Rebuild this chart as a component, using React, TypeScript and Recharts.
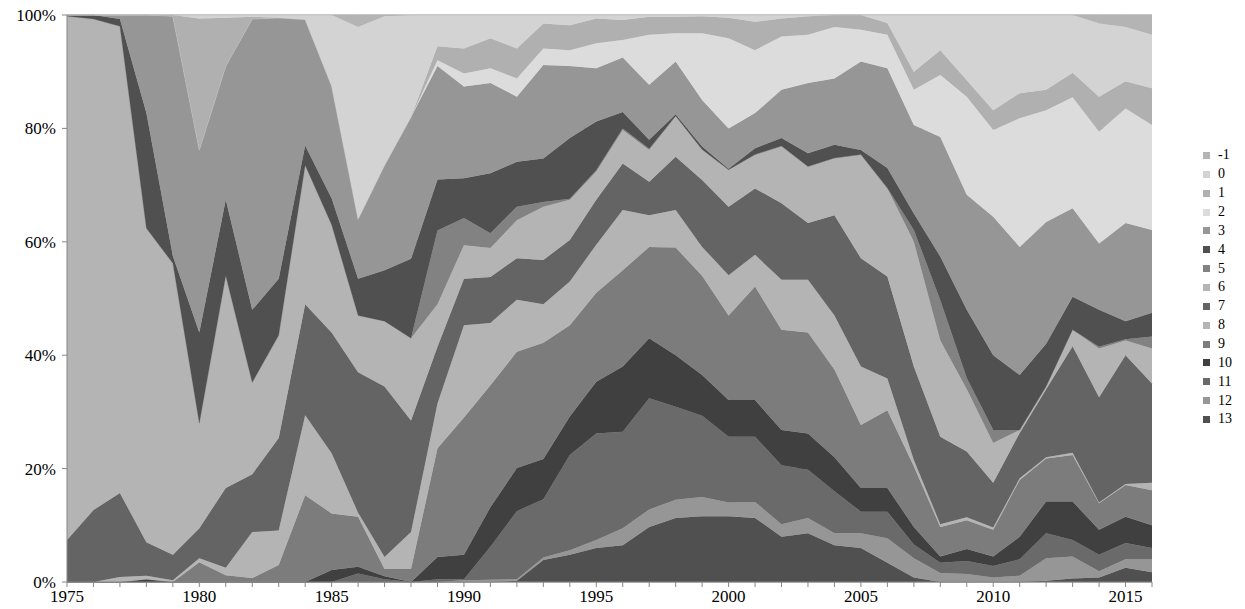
import React from 'react';
import { AreaChart, Area, XAxis, YAxis, CartesianGrid } from 'recharts';

const years = [1975, 1976, 1977, 1978, 1979, 1980, 1981, 1982, 1983, 1984, 1985, 1986, 1987, 1988, 1989, 1990, 1991, 1992, 1993, 1994, 1995, 1996, 1997, 1998, 1999, 2000, 2001, 2002, 2003, 2004, 2005, 2006, 2007, 2008, 2009, 2010, 2011, 2012, 2013, 2014, 2015, 2016];

const s13 = [0, 0, 0, 0, 0, 0, 0, 0, 0, 0, 0, 0, 0, 0, 0, 0, 0, 0.2, 3.9, 4.8, 6, 6.5, 9.7, 11.3, 11.6, 11.6, 11.3, 8, 8.6, 6.5, 6, 3.4, 0.8, 0, 0, 0, 0, 0.2, 0.6, 0.8, 2.5, 1.7];
const s12 = [0, 0, 0, 0, 0, 0, 0, 0, 0, 0, 0, 0, 0, 0, 0, 0.3, 0.4, 0.3, 0.4, 0.8, 1.4, 3, 3.1, 3.2, 3.4, 2.4, 2.8, 2.2, 2.7, 2.1, 2.6, 4.3, 3.4, 1.6, 1.4, 0.8, 1.1, 4, 3.9, 1.1, 1.5, 2.3];
const s11 = [0, 0, 0, 0, 0, 0, 0, 0, 0, 0, 0, 1.5, 0.5, 0, 0.5, 0.2, 5.8, 12, 10.3, 16.8, 18.8, 17, 19.6, 16.4, 14.3, 11.6, 11.5, 10.4, 8.5, 7.4, 3.8, 4.7, 2.4, 1.8, 2.3, 2, 2.9, 4.4, 2.9, 2.9, 2.9, 2];
const s10 = [0, 0, 0, 0.5, 0, 0, 0, 0, 0, 0, 2.1, 1.2, 0.5, 0, 3.9, 4.3, 7, 7.6, 7.1, 6.8, 9.1, 11.5, 10.6, 9.1, 7.2, 6.5, 6.5, 6.2, 6.4, 6, 4.2, 4.2, 3.1, 1.1, 2.1, 1.7, 4, 5.6, 6.8, 4.4, 4.6, 4];
const s9 = [0, 0, 0, 0, 0, 3.5, 1.2, 0.7, 3, 15.3, 10, 8.8, 1.3, 2.3, 19.2, 24.2, 21.5, 20.5, 20.5, 16.1, 15.7, 17, 16.1, 19, 17.5, 14.9, 20, 17.7, 17.8, 15.5, 11.1, 13.7, 10.7, 5.2, 5.1, 4.7, 10, 7.6, 8.2, 4.7, 5.6, 6.2];
const s8 = [0, 0, 0.9, 0.6, 0.3, 0.7, 1.3, 8.1, 6.1, 14.1, 10.6, 0.7, 2.1, 6.5, 7.9, 16.3, 11, 9.2, 6.8, 7.7, 8.5, 10.6, 5.6, 6.6, 5.1, 7.1, 5.6, 8.8, 9.3, 9.5, 10.3, 5.6, 1.1, 0.5, 0.5, 0.4, 0.3, 0.2, 0.4, 0.1, 0.2, 1.3];
const s7 = [7.4, 12.7, 14.8, 5.9, 4.5, 5.3, 14.1, 10.2, 16.3, 19.6, 21.3, 24.8, 30.1, 19.7, 10, 8.2, 8.1, 7.3, 7.8, 7.3, 7.9, 8.2, 5.9, 9.4, 11.8, 12.1, 11.7, 13.5, 10, 17.7, 19.1, 18, 16.5, 15.4, 11.6, 7.9, 8, 12, 18.8, 18.6, 22.7, 17.5];
const s6 = [92.4, 86.6, 82.3, 55.4, 51.4, 18.5, 37.4, 16.2, 18.1, 24.5, 19, 10, 11.5, 14.5, 7.5, 5.9, 5.1, 6.7, 9.4, 7.1, 5, 5.9, 5.6, 7.1, 5.3, 6.5, 5.9, 10, 9.9, 10, 18.2, 15.5, 22, 17, 11, 7, 0.5, 0.5, 2.9, 8.6, 2.6, 6.2];
const s5 = [0, 0, 0, 0, 0, 0, 0, 0, 0, 0, 0, 0, 0, 0, 13, 4.8, 2.6, 2.4, 0.8, 0.2, 0.2, 0.3, 0.2, 0.1, 0.1, 0, 0.1, 0.1, 0.1, 0.1, 0.1, 0.1, 2.1, 7.1, 2, 2.3, 0, 0, 0, 0.3, 0.2, 2.1];
const s4 = [0.2, 0.7, 1.3, 20.3, 1.3, 16, 13.4, 12.8, 10, 3.5, 4.7, 6.5, 9, 14, 9, 7, 10.6, 7.9, 7.7, 10.7, 8.6, 2.9, 1.6, 0.3, 0.5, 0.2, 1.1, 1.4, 2.3, 2.3, 0.8, 3.5, 2.9, 7.7, 12, 13.2, 9.7, 7.5, 5.8, 6.5, 3.2, 4.2];
const s3 = [0, 0, 0.7, 17.3, 42.3, 32.2, 23.6, 51.3, 46, 22.2, 19.8, 10.5, 18.5, 25, 20, 16.2, 15.9, 11.5, 16.5, 12.7, 9.4, 9.6, 9.7, 9.3, 8.2, 7.1, 6.2, 8.5, 12.4, 11.7, 15.6, 17.6, 15.6, 21.1, 20.3, 24.4, 22.6, 21.5, 15.6, 11.7, 17.3, 14.6];
const s2 = [0, 0, 0, 0, 0, 0, 0, 0, 0, 0, 0, 0, 0, 0, 1, 2.3, 2.6, 3.2, 2.9, 2.8, 4.4, 3.1, 8.8, 5, 11.8, 15.9, 11.1, 9.4, 8.5, 9.1, 5.6, 5.9, 6.2, 10.9, 17.3, 15.3, 22.7, 19.7, 19.6, 19.7, 20.2, 18.5];
const s1 = [0, 0, 0, 0, 0.2, 23.2, 8.5, 0.4, 0, 0, 0, 0, 0, 0, 2.5, 4.4, 5.3, 5.3, 4.4, 4.4, 4.4, 3.5, 3.2, 2.9, 3, 3.6, 5, 3.2, 3.3, 2.1, 2.6, 2.1, 3.2, 4.4, 2.9, 3.5, 4.4, 3.6, 4.3, 6.2, 4.8, 6.5];
const s0 = [0, 0, 0, 0, 0, 0.6, 0.5, 0.3, 0.5, 0.8, 12.5, 33.9, 26.3, 18, 5.5, 5.9, 4.1, 5.9, 1.5, 1.8, 0.6, 0.9, 0.3, 0.3, 0.2, 0.5, 1.2, 0.6, 0.2, 0, 0, 1.4, 10, 6.2, 11.5, 16.8, 13.8, 13.2, 10.2, 12.9, 9.6, 9.4];
const sm1 = [0, 0, 0, 0, 0, 0, 0, 0, 0, 0, 0, 2.1, 0.2, 0, 0, 0, 0, 0, 0, 0, 0, 0, 0, 0, 0, 0, 0, 0, 0, 0, 0, 0, 0, 0, 0, 0, 0, 0, 0, 1.5, 2.1, 3.5];

const yTicks = [0, 0.2, 0.4, 0.6, 0.8, 1];

// bottom of stack first
const seriesDefs = [
  { key: 's13', name: '13', color: '#505050', values: s13 },
  { key: 's12', name: '12', color: '#969696', values: s12 },
  { key: 's11', name: '11', color: '#6a6a6a', values: s11 },
  { key: 's10', name: '10', color: '#404040', values: s10 },
  { key: 's9', name: '9', color: '#7c7c7c', values: s9 },
  { key: 's8', name: '8', color: '#b4b4b4', values: s8 },
  { key: 's7', name: '7', color: '#646464', values: s7 },
  { key: 's6', name: '6', color: '#b4b4b4', values: s6 },
  { key: 's5', name: '5', color: '#828282', values: s5 },
  { key: 's4', name: '4', color: '#505050', values: s4 },
  { key: 's3', name: '3', color: '#969696', values: s3 },
  { key: 's2', name: '2', color: '#dcdcdc', values: s2 },
  { key: 's1', name: '1', color: '#b0b0b0', values: s1 },
  { key: 's0', name: '0', color: '#d3d3d3', values: s0 },
  { key: 'sm1', name: '-1', color: '#b4b4b4', values: sm1 },
];

const data = years.map((year, i) => {
  const row: Record<string, number> = { year };
  seriesDefs.forEach((s) => {
    row[s.key] = s.values[i];
  });
  return row;
});

const font = '"Liberation Serif", "Times New Roman", serif';

export default function App() {
  const legendItems = [...seriesDefs].reverse();
  return (
    <div style={{ position: 'absolute', left: 0, top: 0, width: 1245, height: 609, background: '#fff' }}>
      <AreaChart
        width={1245}
        height={609}
        data={data}
        stackOffset="expand"
        margin={{ top: 15, right: 93, bottom: 5, left: 7 }}
      >
        <CartesianGrid horizontal={true} vertical={false} stroke="#9a9a9a" strokeWidth={1} />
        <XAxis
          dataKey="year"
          type="number"
          domain={[1975, 2016]}
          ticks={years}
          interval={0}
          height={22}
          tickSize={5}
          tickMargin={3}
          stroke="#868686"
          tickFormatter={(v: number) => (v % 5 === 0 ? String(v) : '')}
          tick={{ fill: '#000', fontFamily: font, fontSize: 17 }}
        />
        <YAxis
          type="number"
          domain={[0, 1]}
          ticks={yTicks}
          width={60}
          tickSize={5}
          tickMargin={6}
          stroke="#868686"
          tickFormatter={(v: number) => `${Math.round(v * 100)}%`}
          tick={{ fill: '#000', fontFamily: font, fontSize: 17 }}
        />
        {seriesDefs.map((s) => (
          <Area
            key={s.key}
            type="linear"
            dataKey={s.key}
            name={s.name}
            stackId="1"
            fill={s.color}
            fillOpacity={1}
            stroke={s.color}
            strokeWidth={0.5}
            isAnimationActive={false}
            dot={false}
            activeDot={false}
          />
        ))}
      </AreaChart>
      <div style={{ position: 'absolute', left: 1203, top: 146, fontFamily: font, fontSize: 14, color: '#000' }}>
        {legendItems.map((s) => (
          <div key={s.key} style={{ height: 18.86, display: 'flex', alignItems: 'center' }}>
            <span style={{ display: 'inline-block', width: 7, height: 7, background: s.color, marginRight: 8 }} />
            <span>{s.name}</span>
          </div>
        ))}
      </div>
    </div>
  );
}
